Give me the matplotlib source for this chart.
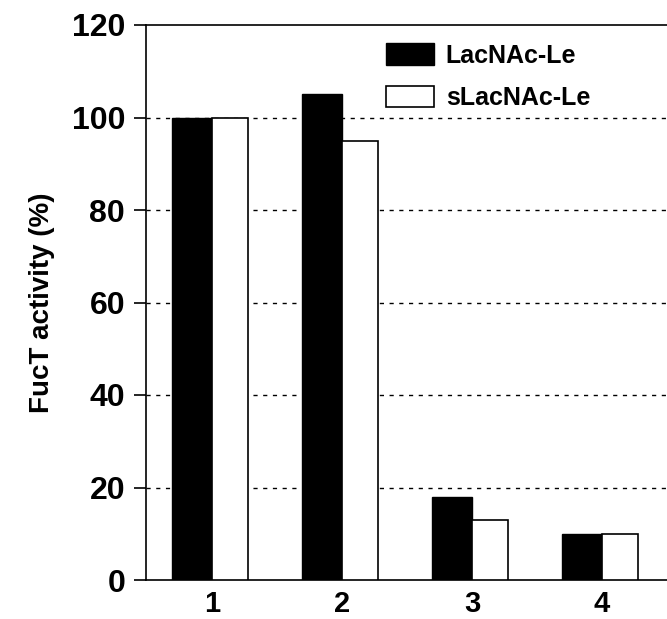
import matplotlib
matplotlib.use('Agg')
import matplotlib.pyplot as plt
import numpy as np

# data
groups = ['1', '2', '3', '4']
lacnac = [100, 105, 18, 10]
slacnac = [100, 95, 13, 10]
series_names = ['LacNAc-Le', 'sLacNAc-Le']
yticks = [0, 20, 40, 60, 80, 100, 120]

plt.rcParams['font.family'] = ['Liberation Sans', 'DejaVu Sans']
plt.rcParams['font.weight'] = 'bold'

fig = plt.figure(figsize=(6.67, 6.19), dpi=100)
ax = fig.add_axes([146 / 667, 39 / 619, 1 - 146 / 667, 555 / 619])

x = np.arange(1, len(groups) + 1)
w_black = 0.305
w_white = 0.275
ax.bar(x, lacnac, width=-w_black, align='edge', color='black',
       edgecolor='black', linewidth=1.0, zorder=3, label=series_names[0])
ax.bar(x, slacnac, width=w_white, align='edge', color='white',
       edgecolor='black', linewidth=1.2, zorder=3, label=series_names[1])

ax.set_xlim(0.494, 4.5)
ax.set_ylim(0, 120)
ax.set_yticks(yticks)
ax.set_xticks(x)
ax.set_xticklabels(groups)

# dotted grid lines behind the bars
for yv in yticks[1:-1]:
    ax.axhline(yv, color='black', linewidth=1.0, linestyle=(0, (3, 4)), zorder=1)

for s in ['left', 'bottom', 'top']:
    ax.spines[s].set_linewidth(1.2)
ax.spines['right'].set_visible(False)

ax.tick_params(axis='y', direction='out', length=9, width=1.2, pad=6, labelsize=23)
ax.tick_params(axis='x', length=0, pad=7, labelsize=21)
for lab in ax.get_xticklabels() + ax.get_yticklabels():
    lab.set_fontweight('bold')

ax.set_ylabel('FucT activity (%)', fontsize=20, fontweight='bold', labelpad=12)

ax.legend(loc='upper left', bbox_to_anchor=(0.46, 0.967), frameon=False,
          handlelength=1.95, handleheight=0.95, handletextpad=0.45,
          labelspacing=0.72, borderpad=0, borderaxespad=0,
          prop={'weight': 'bold', 'size': 18})

fig.savefig('out.png', dpi=100)
